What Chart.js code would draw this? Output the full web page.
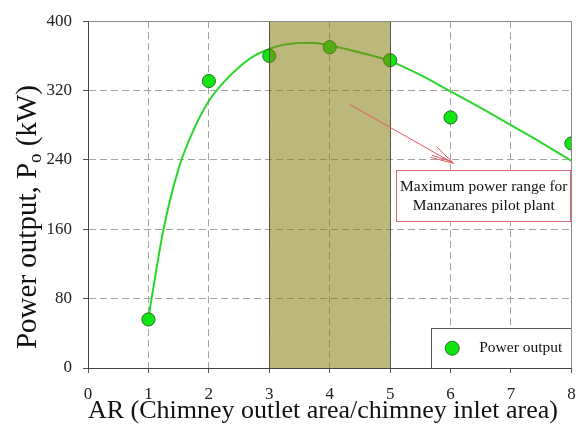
<!DOCTYPE html>
<html>
<head>
<meta charset="utf-8">
<script src="https://cdn.jsdelivr.net/npm/chart.js@4.4.1/dist/chart.umd.min.js"></script>
<style>
  html, body { margin: 0; padding: 0; background: #ffffff; }
  #wrap { width: 579px; height: 426px; }
</style>
</head>
<body>
<div id="wrap"><canvas id="c" width="579" height="426"></canvas></div>
<script>
// Measured power output against area ratio
const arValues = [1, 2, 3, 4, 5, 6, 8];
const powerValues = [56, 331, 360, 370, 355, 289, 259];

// Fitted trend curve
const fitAR = [1, 1.25, 1.5, 1.75, 2, 2.25, 2.5, 2.75, 3, 3.25, 3.5, 3.75, 4, 4.5, 5, 5.5, 6, 6.5, 7, 7.5, 8];
const fitPower = [58, 160, 230, 275, 308, 330, 347, 360, 368, 373, 375, 375, 372, 364, 354, 338, 319, 300, 280, 260, 239];

// Axis ticks
const xTicks = [0, 1, 2, 3, 4, 5, 6, 7, 8];
const yTicks = [0, 80, 160, 240, 320, 400];

// Highlighted AR band (maximum power range)
const rangeAR = [3, 5];

// Note with arrow, in data units
const arrowFrom = [4.33, 304];
const arrowTo = [6.05, 236];
const noteBox = [5.1, 228, 8, 169];
const noteLines = ['Maximum power range for', 'Manzanares pilot plant'];

// Legend box, in data units
const legendBox = [5.68, 45.6, 8, 0];
const legendLabel = 'Power output';

const xTitle = 'AR (Chimney outlet area/chimney inlet area)';
const yTitleMain = 'Power output, P';
const yTitleSub = 'o';
const yTitleEnd = ' (kW)';

const SERIF = '"Liberation Serif", "Times New Roman", serif';
const POINT_FILL = '#12e612';
const POINT_EDGE = '#2b6e2b';

Chart.defaults.font.family = SERIF;

const overlayPlugin = {
  id: 'overlay',
  afterDatasetsDraw(chart) {
    const { ctx, chartArea: a, scales: { x, y } } = chart;
    ctx.save();

    // translucent band over the grid and marks
    const bx0 = x.getPixelForValue(rangeAR[0]);
    const bx1 = x.getPixelForValue(rangeAR[1]);
    ctx.fillStyle = 'rgba(133, 126, 14, 0.55)';
    ctx.fillRect(bx0, a.top, bx1 - bx0, a.bottom - a.top);
    ctx.strokeStyle = 'rgba(70, 70, 50, 0.85)';
    ctx.lineWidth = 1;
    ctx.beginPath();
    ctx.moveTo(Math.round(bx0) + 0.5, a.top);
    ctx.lineTo(Math.round(bx0) + 0.5, a.bottom);
    ctx.moveTo(Math.round(bx1) + 0.5, a.top);
    ctx.lineTo(Math.round(bx1) + 0.5, a.bottom);
    ctx.stroke();

    // arrow
    const ax0 = x.getPixelForValue(arrowFrom[0]), ay0 = y.getPixelForValue(arrowFrom[1]);
    const ax1 = x.getPixelForValue(arrowTo[0]), ay1 = y.getPixelForValue(arrowTo[1]);
    const ang = Math.atan2(ay1 - ay0, ax1 - ax0);
    ctx.strokeStyle = '#e0585c';
    ctx.lineWidth = 1;
    ctx.beginPath();
    ctx.moveTo(ax0, ay0);
    ctx.lineTo(ax1, ay1);
    const head = 24, spread = 0.26;
    ctx.moveTo(ax1, ay1);
    ctx.lineTo(ax1 - head * Math.cos(ang - spread), ay1 - head * Math.sin(ang - spread));
    ctx.moveTo(ax1, ay1);
    ctx.lineTo(ax1 - head * Math.cos(ang + spread), ay1 - head * Math.sin(ang + spread));
    ctx.moveTo(ax1 - 1, ay1 - 1.5);
    ctx.lineTo(ax1 - 1 - head * 0.9 * Math.cos(ang - spread * 0.8), ay1 - 1.5 - head * 0.9 * Math.sin(ang - spread * 0.8));
    ctx.stroke();

    // note box
    const nx0 = x.getPixelForValue(noteBox[0]), ny0 = y.getPixelForValue(noteBox[1]);
    const nx1 = x.getPixelForValue(noteBox[2]), ny1 = y.getPixelForValue(noteBox[3]);
    ctx.fillStyle = '#ffffff';
    ctx.fillRect(nx0, ny0, nx1 - nx0, ny1 - ny0);
    ctx.strokeStyle = '#e06a72';
    ctx.strokeRect(Math.round(nx0) + 0.5, Math.round(ny0) + 0.5, Math.round(nx1 - nx0) - 1, Math.round(ny1 - ny0));
    ctx.fillStyle = '#111111';
    ctx.font = '15.5px ' + SERIF;
    ctx.textAlign = 'center';
    ctx.textBaseline = 'middle';
    const ncx = (nx0 + nx1) / 2, ncy = (ny0 + ny1) / 2;
    ctx.fillText(noteLines[0], ncx, ncy - 9);
    ctx.fillText(noteLines[1], ncx, ncy + 10);

    // legend box
    const lx0 = x.getPixelForValue(legendBox[0]), ly0 = y.getPixelForValue(legendBox[1]);
    const lx1 = x.getPixelForValue(legendBox[2]), ly1 = y.getPixelForValue(legendBox[3]);
    ctx.fillStyle = '#ffffff';
    ctx.fillRect(lx0, ly0, lx1 - lx0, ly1 - ly0);
    ctx.strokeStyle = '#555555';
    ctx.strokeRect(Math.round(lx0) + 0.5, Math.round(ly0) + 0.5, Math.round(lx1 - lx0), Math.round(ly1 - ly0));
    const my = (ly0 + ly1) / 2;
    ctx.beginPath();
    ctx.arc(lx0 + 21, my, 7, 0, Math.PI * 2);
    ctx.fillStyle = POINT_FILL;
    ctx.fill();
    ctx.strokeStyle = POINT_EDGE;
    ctx.stroke();
    ctx.fillStyle = '#111111';
    ctx.textAlign = 'left';
    ctx.fillText(legendLabel, lx0 + 48, my);

    // frame
    ctx.strokeStyle = '#8a8a8a';
    ctx.beginPath();
    ctx.moveTo(a.left, Math.round(a.top) + 0.5);
    ctx.lineTo(Math.round(a.right) + 0.5, Math.round(a.top) + 0.5);
    ctx.lineTo(Math.round(a.right) + 0.5, a.bottom);
    ctx.stroke();
    ctx.strokeStyle = '#444444';
    ctx.beginPath();
    ctx.moveTo(Math.round(a.left) + 0.5, a.top);
    ctx.lineTo(Math.round(a.left) + 0.5, Math.round(a.bottom) + 0.5);
    ctx.lineTo(a.right, Math.round(a.bottom) + 0.5);
    ctx.stroke();

    ctx.restore();
  },
  afterDraw(chart) {
    const { ctx } = chart;
    ctx.save();
    ctx.fillStyle = '#111111';
    ctx.textBaseline = 'middle';

    // x title
    ctx.font = '26px ' + SERIF;
    ctx.textAlign = 'center';
    ctx.fillText(xTitle, 323, 411);

    // y title with subscript
    const big = '29px ' + SERIF, small = '19px ' + SERIF;
    ctx.font = big;
    const w1 = ctx.measureText(yTitleMain).width;
    const w3 = ctx.measureText(yTitleEnd).width;
    ctx.font = small;
    const w2 = ctx.measureText(yTitleSub).width;
    const total = w1 + w2 + w3;
    ctx.translate(28, 217);
    ctx.rotate(-Math.PI / 2);
    ctx.textAlign = 'left';
    ctx.font = big;
    ctx.fillText(yTitleMain, -total / 2, 0);
    ctx.font = small;
    ctx.fillText(yTitleSub, -total / 2 + w1, 8);
    ctx.font = big;
    ctx.fillText(yTitleEnd, -total / 2 + w1 + w2, 0);
    ctx.restore();
  }
};

const gridCommon = {
  color: '#a2a2a2',
  lineWidth: 1,
  tickColor: '#555555',
  tickLength: 5,
  drawTicks: true
};

new Chart(document.getElementById('c'), {
  type: 'scatter',
  data: {
    datasets: [
      {
        label: legendLabel,
        data: arValues.map((v, i) => ({ x: v, y: powerValues[i] })),
        backgroundColor: POINT_FILL,
        borderColor: POINT_EDGE,
        borderWidth: 1,
        pointRadius: 6.6,
        pointHoverRadius: 6.6,
        order: 1
      },
      {
        label: 'fit',
        data: fitAR.map((v, i) => ({ x: v, y: fitPower[i] })),
        showLine: true,
        borderColor: '#2bd62b',
        borderWidth: 2,
        pointRadius: 0,
        fill: false,
        tension: 0.4,
        cubicInterpolationMode: 'monotone',
        order: 2
      }
    ]
  },
  options: {
    responsive: false,
    devicePixelRatio: 1,
    animation: false,
    layout: { padding: { left: 0, top: 20, right: 1, bottom: 0 } },
    plugins: {
      legend: { display: false },
      tooltip: { enabled: false },
      title: { display: false }
    },
    scales: {
      x: {
        type: 'linear',
        min: xTicks[0],
        max: xTicks[xTicks.length - 1],
        afterBuildTicks: s => { s.ticks = xTicks.map(v => ({ value: v })); },
        afterFit: s => { s.height = 58; s.paddingRight = 0; },
        ticks: { color: '#222222', font: { size: 17, family: SERIF }, padding: 11, maxRotation: 0 },
        grid: gridCommon,
        border: { display: true, color: '#444444', width: 1, dash: [7, 4] }
      },
      y: {
        type: 'linear',
        min: yTicks[0],
        max: yTicks[yTicks.length - 1],
        afterBuildTicks: s => { s.ticks = yTicks.map(v => ({ value: v })); },
        afterFit: s => { s.width = 88; },
        ticks: { color: '#222222', font: { size: 17, family: SERIF }, padding: 11 },
        grid: gridCommon,
        border: { display: true, color: '#444444', width: 1, dash: [7, 4] }
      }
    }
  },
  plugins: [overlayPlugin]
});
</script>
</body>
</html>
